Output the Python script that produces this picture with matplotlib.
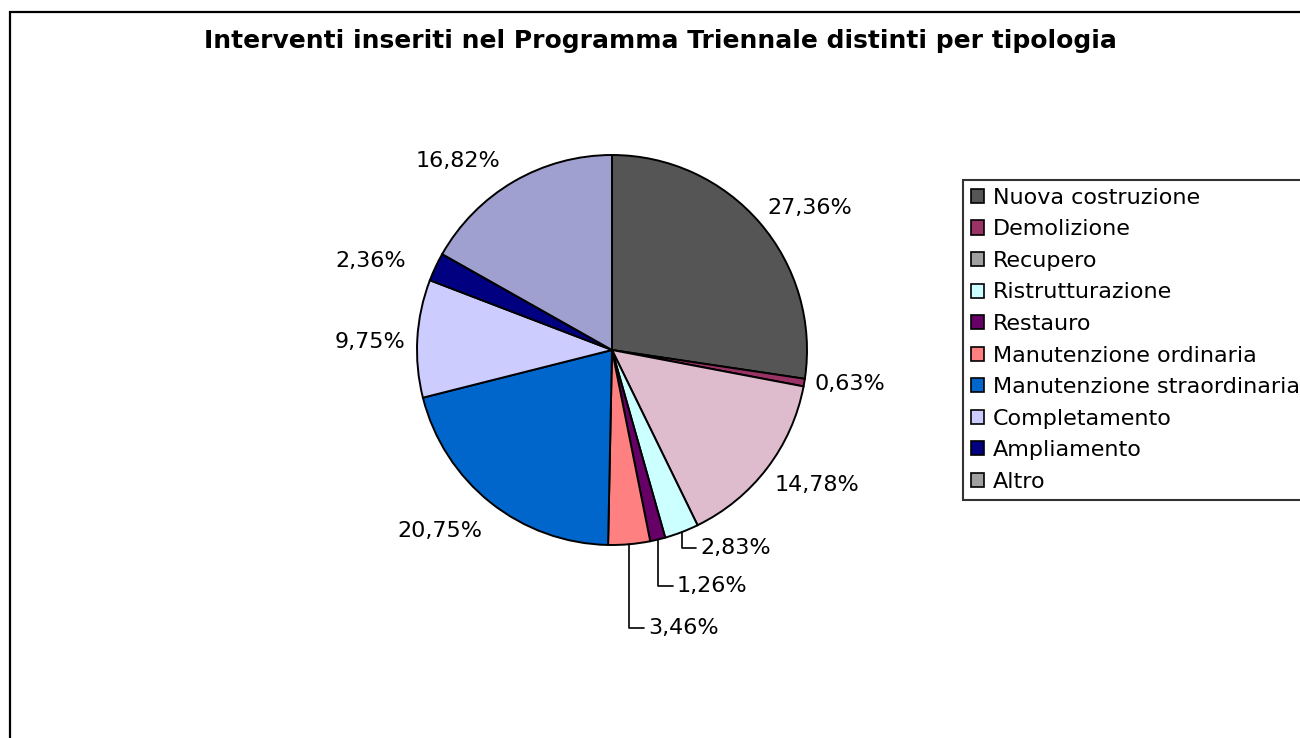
import matplotlib
matplotlib.use("Agg")
import matplotlib.pyplot as plt
import numpy as np
from matplotlib.patches import Patch, Rectangle

plt.rcParams['font.family'] = ['DejaVu Sans']

categories = ["Nuova costruzione", "Demolizione", "Recupero", "Ristrutturazione",
              "Restauro", "Manutenzione ordinaria", "Manutenzione straordinaria",
              "Completamento", "Ampliamento", "Altro"]
values = [27.36, 0.63, 14.78, 2.83, 1.26, 3.46, 20.75, 9.75, 2.36, 16.82]
labels = ["27,36%", "0,63%", "14,78%", "2,83%", "1,26%", "3,46%",
          "20,75%", "9,75%", "2,36%", "16,82%"]
slice_colors = ["#555555", "#993366", "#DFBBCE", "#CCFFFF", "#660066",
                "#FF8080", "#0066CC", "#CCCCFF", "#000080", "#A0A0D0"]
legend_colors = ["#555555", "#993366", "#A0A0A0", "#CCFFFF", "#660066",
                 "#FF8080", "#0066CC", "#CCCCFF", "#000080", "#A0A0A0"]

W, H = 1300, 738
fig = plt.figure(figsize=(W / 100, H / 100), dpi=100)

# outer chart frame
fig.patches.append(Rectangle((10 / W, -0.1), 1.2, 1 - 12 / H + 0.1,
                             transform=fig.transFigure, fill=False,
                             edgecolor="black", linewidth=1.6, clip_on=False))

fig.text(660 / W, 1 - 41 / H,
         "Interventi inseriti nel Programma Triennale distinti per tipologia",
         ha="center", va="center", fontsize=18, fontweight="bold")

R_px = 195.0
half = 300.0
cx, cy = 612, 350
ax = fig.add_axes([(cx - half) / W, (H - cy - half) / H, 2 * half / W, 2 * half / H])
lim = half / R_px
ax.axis("off")

wedges, _ = ax.pie(values, colors=slice_colors, startangle=90, counterclock=False,
                   radius=1.0, wedgeprops=dict(edgecolor="black", linewidth=1.4))
ax.set_xlim(-lim, lim)
ax.set_ylim(-lim, lim)
ax.set_aspect("auto")

label_fs = 16
# label placement: radius factor and angle offset, or leader-line text positions
label_dist = [1.25, 1.23, 1.26, None, None, None, 1.28, 1.24, 1.32, 1.25]
angle_adj = [-5, 1.5, 4, 0, 0, 0, -5, 1.5, 5, 9]
leader_pos = {3: (0.451, -1.015), 4: (0.333, -1.21), 5: (0.185, -1.426)}

for i, w in enumerate(wedges):
    mid = np.deg2rad((w.theta1 + w.theta2) / 2)
    if i in leader_pos:
        px, py = np.cos(mid), np.sin(mid)
        ax.annotate(labels[i], xy=(px, py), xytext=leader_pos[i],
                    ha="left", va="center", fontsize=label_fs,
                    arrowprops=dict(arrowstyle="-", color="black", lw=1.2,
                                    connectionstyle="angle,angleA=0,angleB=90,rad=0",
                                    shrinkA=1, shrinkB=0),
                    annotation_clip=False)
    else:
        a = mid + np.deg2rad(angle_adj[i])
        r = label_dist[i]
        ax.text(r * np.cos(a), r * np.sin(a), labels[i], ha="center", va="center",
                fontsize=label_fs, clip_on=False)

handles = [Patch(facecolor=c, edgecolor="black", linewidth=1.2) for c in legend_colors]
leg = fig.legend(handles, categories, loc="upper left",
                 bbox_to_anchor=(963 / W, 1 - 180 / H), frameon=True,
                 fontsize=16, handlelength=0.6, handleheight=0.6,
                 handletextpad=0.4, labelspacing=0.52, borderpad=0.35,
                 borderaxespad=0, fancybox=False)
leg.get_frame().set_edgecolor("black")
leg.get_frame().set_linewidth(1.5)

fig.savefig("out.png", dpi=100)
